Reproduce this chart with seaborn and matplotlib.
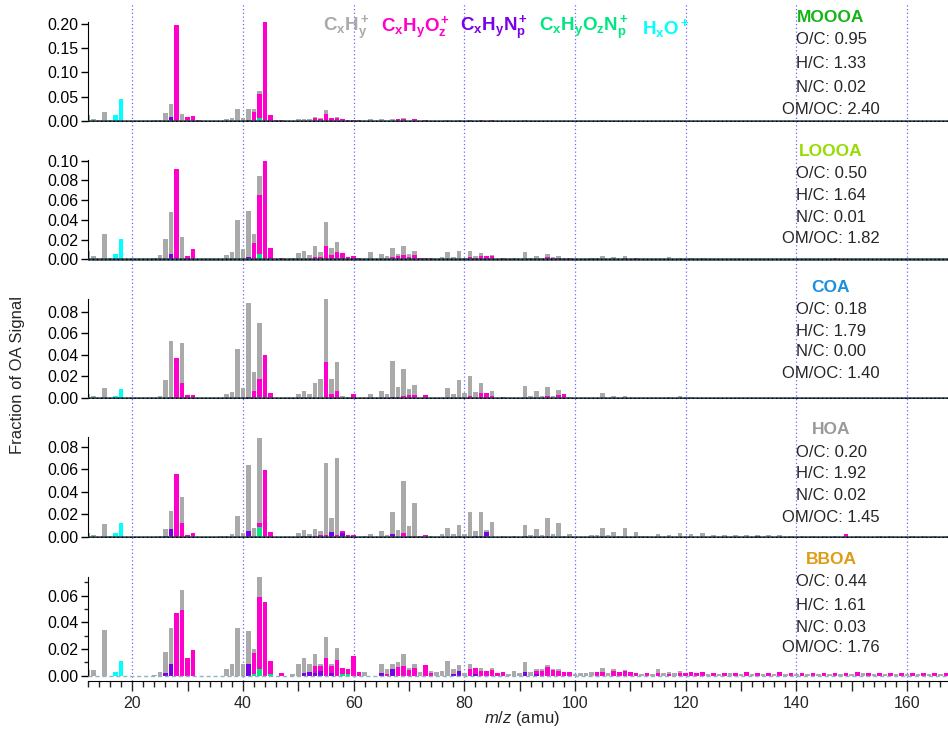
import seaborn as sns
import pandas as pd
import numpy as np
import matplotlib.pyplot as plt
from matplotlib.ticker import MultipleLocator, FuncFormatter

# ion families (stack order: first one ends up on top)
families = ["CxHy", "CxHyOz", "CxHyNp", "CxHyOzNp", "HxO"]
family_colors = ["#aaaaaa", "#ff00cc", "#7a00e6", "#00e680", "#00ffff"]
family_labels = [r"$\mathbf{C_xH_y^+}$", r"$\mathbf{C_xH_yO_z^+}$", r"$\mathbf{C_xH_yN_p^+}$",
                 r"$\mathbf{C_xH_yO_zN_p^+}$", r"$\mathbf{H_xO^+}$"]

factor_names = ["MOOOA", "LOOOA", "COA", "HOA", "BBOA"]
factor_colors = ["#14b414", "#96dc00", "#1a8fe0", "#999999", "#e09a14"]
o_c = [0.95, 0.50, 0.18, 0.20, 0.44]
h_c = [1.33, 1.64, 1.79, 1.92, 1.61]
n_c = [0.02, 0.01, 0.00, 0.02, 0.03]
om_oc = [2.40, 1.82, 1.40, 1.45, 1.76]

# ---- MOOOA ----
mooa_hc = {12: .012, 13: .003, 14: .001, 15: .017, 24: .001, 25: .002, 26: .016, 27: .028, 29: .014,
           37: .003, 38: .005, 39: .025, 40: .006, 41: .023, 42: .006, 43: .006, 50: .003, 51: .004,
           52: .003, 53: .003, 54: .002, 55: .008, 56: .001, 57: .001, 63: .004, 65: .003, 67: .004,
           69: .002, 77: .002, 79: .002, 81: .001, 91: .001, 105: .001}
mooa_cho = {28: .199, 30: .008, 31: .010, 32: .001, 42: .019, 43: .051, 44: .204, 45: .012, 46: .001,
            47: .001, 53: .005, 54: .003, 55: .014, 56: .005, 57: .006, 58: .003, 59: .002, 60: .002,
            61: .001, 68: .003, 69: .003, 71: .003, 73: .001, 81: .001, 83: .002, 85: .001}
mooa_cn = {27: .007, 41: .002}
mooa_chon = {43: .005}
mooa_hxo = {16: .001, 17: .011, 18: .045}

# ---- LOOOA ----
looa_hc = {12: .0084, 13: .0034, 15: .026, 24: .001, 25: .004, 26: .021, 27: .043, 29: .023, 37: .004,
           38: .007, 39: .040, 40: .010, 41: .047, 42: .009, 43: .019, 49: .001, 50: .006, 51: .008,
           52: .004, 53: .011, 54: .0055, 55: .024, 56: .007, 57: .011, 63: .007, 65: .0055, 66: .003,
           67: .009, 68: .0025, 69: .0095, 70: .003, 71: .004, 76: .002, 77: .007, 78: .0025, 79: .008,
           80: .001, 81: .0065, 82: .002, 83: .003, 84: .0005, 85: .0015, 89: .0015, 91: .0075,
           92: .001, 93: .0035, 94: .001, 95: .0035, 96: .001, 97: .002, 98: .001, 103: .001,
           104: .001, 105: .003, 107: .002, 109: .002, 117: .002, 119: .0015, 121: .001, 123: .001}
looa_cho = {28: .092, 30: .003, 31: .010, 42: .017, 43: .060, 44: .100, 45: .011, 47: .001, 53: .002,
            54: .002, 55: .014, 56: .004, 57: .007, 58: .005, 59: .002, 60: .003, 61: .001, 67: .002,
            68: .003, 69: .004, 70: .002, 71: .004, 72: .0015, 73: .0015, 74: .001, 81: .002,
            82: .0015, 83: .003, 84: .003, 85: .003, 87: .0015, 95: .002, 96: .001, 97: .0015,
            99: .0015, 109: .001, 111: .001, 147: .001}
looa_cn = {27: .005, 41: .002, 58: .001}
looa_chon = {43: .005}
looa_hxo = {16: .001, 17: .005, 18: .021}

# ---- COA ----
coa_hc = {12: .0034, 13: .0012, 15: .0087, 25: .002, 26: .016, 27: .052, 29: .037, 37: .003, 38: .005,
          39: .045, 40: .009, 41: .087, 42: .018, 43: .0515, 50: .0034, 51: .006, 52: .003, 53: .0137,
          54: .017, 55: .059, 56: .014, 57: .027, 58: .0012, 59: .0006, 63: .0037, 65: .006,
          66: .0034, 67: .033, 68: .0086, 69: .0255, 70: .0053, 71: .009, 77: .0087, 78: .0034,
          79: .0167, 80: .0043, 81: .0185, 82: .005, 83: .0097, 84: .0008, 85: .0045, 91: .011,
          92: .0012, 93: .006, 94: .0012, 95: .0085, 96: .0015, 97: .0045, 99: .0006, 105: .004,
          107: .002, 109: .002, 117: .001, 119: .0015, 121: .001}
coa_cho = {28: .037, 29: .0137, 30: .0025, 31: .0025, 42: .006, 43: .017, 44: .040, 45: .004,
           55: .033, 56: .003, 57: .006, 60: .0034, 68: .001, 69: .0015, 70: .0025, 71: .0025,
           73: .0025, 81: .002, 83: .0043, 84: .004, 85: .0015, 87: .0005, 95: .0015, 97: .0025,
           98: .0037}
coa_cn = {27: .001, 41: .001, 67: .001}
coa_chon = {43: .0005}
coa_hxo = {17: .0015, 18: .008}

# ---- HOA ----
hoa_hc = {12: .0033, 13: .0015, 15: .011, 25: .0006, 26: .006, 27: .0157, 29: .023, 36: .0006,
          37: .001, 38: .0024, 39: .018, 40: .0033, 41: .059, 42: .0064, 43: .0762, 50: .0035,
          51: .005, 52: .0018, 53: .006, 54: .004, 55: .0645, 56: .0132, 57: .0682, 62: .001,
          63: .0024, 65: .0047, 66: .0015, 67: .020, 68: .006, 69: .0462, 70: .0085, 71: .0295,
          74: .0006, 76: .002, 77: .0074, 78: .0027, 79: .010, 80: .002, 81: .022, 82: .0044,
          83: .0214, 84: .0019, 85: .0135, 87: .0006, 89: .0006, 91: .0098, 92: .0018, 93: .007,
          94: .0015, 95: .016, 96: .0024, 97: .0125, 98: .0006, 99: .0027, 103: .0012, 104: .0018,
          105: .007, 106: .0012, 107: .0041, 108: .0009, 109: .0077, 111: .0038, 112: .0006,
          113: .0006, 115: .0024, 117: .0018, 119: .0036, 121: .0024, 123: .0033, 125: .0012,
          127: .0012, 129: .0012, 131: .0012, 133: .0012, 135: .0012, 137: .0012, 139: .001,
          141: .001, 143: .001, 145: .001, 147: .001, 151: .001, 155: .001, 157: .001, 161: .001,
          163: .0008, 165: .0008, 167: .0008}
hoa_cho = {28: .0554, 29: .012, 30: .0012, 31: .0033, 43: .0032, 44: .0595, 45: .0038, 54: .0005,
           55: .0012, 57: .0018, 58: .0012, 59: .0012, 60: .0018, 69: .0033, 70: .0007, 71: .0007,
           72: .0006, 73: .0018, 95: .0006, 105: .0006, 149: .0024}
hoa_cn = {26: .001, 27: .0068, 41: .0047, 51: .0006, 52: .0006, 53: .0008, 54: .0008, 56: .0038,
          58: .0035, 67: .002, 79: .0006, 82: .0006, 83: .0006, 84: .0041, 91: .0006, 133: .0006}
hoa_chon = {42: .001, 43: .0086}
hoa_hxo = {16: .0006, 17: .0033, 18: .0124}

# ---- BBOA ----
bboa_hc = {12: .0043, 13: .0043, 15: .034, 24: .0005, 25: .0028, 26: .016, 27: .0275, 29: .0145,
           37: .005, 38: .0088, 39: .0355, 40: .009, 41: .025, 42: .003, 43: .016, 49: .0015,
           50: .009, 51: .0117, 52: .0065, 53: .009, 54: .002, 55: .0153, 56: .0015, 57: .0088,
           62: .003, 65: .0072, 66: .0038, 67: .0035, 68: .0032, 69: .009, 70: .0015, 71: .003,
           72: .003, 74: .0017, 75: .0025, 76: .0038, 77: .0108, 78: .004, 79: .0045, 80: .0023,
           81: .004, 82: .0005, 83: .002, 85: .0015, 88: .001, 89: .0035, 90: .002, 91: .007,
           92: .0025, 93: .0013, 94: .0015, 95: .0015, 96: .001, 97: .0015, 100: .001, 101: .0018,
           102: .0022, 103: .003, 105: .003, 106: .0018, 107: .0015, 109: .001, 112: .001,
           114: .001, 115: .003, 116: .0018, 117: .0018, 118: .002, 119: .0015, 124: .0012,
           126: .0012, 128: .0022, 130: .0012, 132: .001, 134: .001, 136: .001, 138: .001,
           140: .001, 142: .001, 144: .001, 146: .001, 148: .001, 150: .001, 152: .0018,
           154: .0012, 156: .001, 158: .001, 160: .001, 162: .001, 164: .0012, 166: .001}
bboa_cho = {28: .047, 29: .0495, 30: .013, 31: .019, 42: .016, 43: .054, 44: .0555, 45: .010,
            47: .0018, 53: .005, 54: .0035, 55: .0135, 56: .0055, 57: .012, 58: .0045, 59: .004,
            60: .015, 61: .003, 66: .0012, 68: .0068, 69: .0073, 70: .0045, 71: .006, 73: .0078,
            74: .0018, 81: .005, 82: .0045, 83: .0035, 84: .0035, 85: .004, 86: .0018, 87: .0025,
            93: .0025, 94: .0035, 95: .0065, 96: .004, 97: .0035, 98: .0025, 99: .0025,
            104: .0025, 105: .003, 107: .0035, 108: .0028, 109: .0035, 110: .0028, 111: .0022,
            113: .0018, 115: .002, 117: .001, 119: .002, 120: .0018, 121: .0025, 122: .002,
            123: .0028, 125: .002, 127: .0022, 129: .002, 131: .0025, 133: .002, 135: .002,
            137: .0028, 139: .002, 141: .0018, 143: .0018, 145: .0022, 147: .0022, 149: .0022,
            151: .0025, 153: .0022, 155: .002, 157: .002, 159: .0018, 161: .002, 163: .002,
            165: .0022, 167: .002}
bboa_cn = {26: .0018, 27: .0085, 41: .0085, 51: .0018, 52: .0025, 53: .002, 54: .0035, 56: .002,
           65: .0018, 67: .005, 78: .001, 79: .0035, 82: .001, 91: .003, 93: .001}
bboa_chon = {42: .001, 43: .005, 45: .001, 58: .001, 59: .001}
bboa_hxo = {17: .0028, 18: .011}

spectra = [
    [mooa_hc, mooa_cho, mooa_cn, mooa_chon, mooa_hxo],
    [looa_hc, looa_cho, looa_cn, looa_chon, looa_hxo],
    [coa_hc, coa_cho, coa_cn, coa_chon, coa_hxo],
    [hoa_hc, hoa_cho, hoa_cn, hoa_chon, hoa_hxo],
    [bboa_hc, bboa_cho, bboa_cn, bboa_chon, bboa_hxo],
]

rows = []
for name, fams in zip(factor_names, spectra):
    for fam, d in zip(families, fams):
        rows.append((name, fam, 12, 0.0))
        for mz, v in d.items():
            rows.append((name, fam, mz, v))
df = pd.DataFrame(rows, columns=["factor", "family", "mz", "frac"])

sns.set_style("ticks")
plt.rcParams["font.family"] = ["Liberation Sans", "DejaVu Sans"]
plt.rcParams["mathtext.fontset"] = "custom"
plt.rcParams["mathtext.rm"] = "Liberation Sans"
plt.rcParams["mathtext.it"] = "Liberation Sans:italic"
plt.rcParams["mathtext.bf"] = "Liberation Sans:bold"

W, H = 948, 731
fig = plt.figure(figsize=(W / 100, H / 100), dpi=100)

# panel layout in pixels: (top, bottom) and y-limits
panel_px = [(21.9, 122.1), (159.7, 260.8), (299.3, 399.3), (437.2, 538.4), (576.7, 681.0)]
ylims = [(-0.003, 0.205), (-0.0015, 0.101), (-0.0015, 0.0915), (-0.0015, 0.0884), (-0.004, 0.0743)]
yticks = [0.05, 0.02, 0.02, 0.02, 0.02]
x_left, x_right = 88, 948
xlim = (12.0, 167.4)

# background axes for the dotted vertical grid
bg = fig.add_axes([x_left / W, 1 - 681 / H, (x_right - x_left) / W, (681 - 4) / H], zorder=-5)
bg.set_xlim(xlim)
bg.axis("off")
for g in range(20, 161, 20):
    bg.axvline(g, color="#6a6aff", lw=0.9, ls=(0, (1, 2)))

# text y positions (px): name, O/C, H/C, N/C, OM/OC
text_px = [[17, 40, 63, 87, 110], [152, 174, 196, 218, 239], [288, 309, 331, 352, 373],
           [430, 452, 474, 496, 518], [560, 582, 605, 627, 648]]

for i, name in enumerate(factor_names):
    top, bot = panel_px[i]
    ax = fig.add_axes([x_left / W, 1 - bot / H, (x_right - x_left) / W, (bot - top) / H])
    ax.patch.set_visible(False)
    sub = df[df["factor"] == name]
    sns.histplot(data=sub, x="mz", weights="frac", hue="family", hue_order=families,
                 palette=family_colors, multiple="stack", discrete=True, shrink=0.82,
                 linewidth=0, alpha=1, legend=False, ax=ax)
    ax.set_xlim(xlim)
    ax.set_ylim(ylims[i])
    ax.set_xlabel("")
    ax.set_ylabel("")
    ax.yaxis.set_major_locator(MultipleLocator(yticks[i]))
    ax.yaxis.set_major_formatter(FuncFormatter(lambda v, p: f"{v:.2f}"))
    ax.tick_params(axis="y", labelsize=11.5, length=5, width=1, colors="black", pad=2)
    for s in ["top", "right"]:
        ax.spines[s].set_visible(False)
    ax.spines["left"].set_color("black")
    ax.spines["left"].set_bounds(0, ylims[i][1])
    if i < 4:
        ax.spines["bottom"].set_visible(False)
        ax.set_xticks([])
        ax.axhline(0, color="#2e4650", lw=1.8, zorder=3)
        ax.axhline(0, color="black", lw=1.0, ls=(0, (1, 2)), zorder=4)
    else:
        ax.axhline(0, color="#8fb3cc", lw=1.0, ls=(0, (3, 2)), zorder=3)
        ax.spines["bottom"].set_color("black")
        ax.yaxis.set_minor_locator(MultipleLocator(0.01))
        ax.tick_params(axis="y", which="minor", length=3, width=1)
        ax.xaxis.set_major_locator(MultipleLocator(10))
        ax.xaxis.set_minor_locator(MultipleLocator(2))
        ax.xaxis.set_major_formatter(FuncFormatter(lambda v, p: f"{v:.0f}" if v % 20 == 0 else ""))
        ax.tick_params(axis="x", which="major", length=7, width=1, labelsize=11.5, pad=4)
        ax.tick_params(axis="x", which="minor", length=4, width=1)

    ys = text_px[i]
    xc = 831 / W
    fig.text(xc, 1 - ys[0] / H, name, color=factor_colors[i], fontsize=12.5, fontweight="bold",
             ha="center", va="center")
    lines = [f"O/C: {o_c[i]:.2f}", f"H/C: {h_c[i]:.2f}", f"N/C: {n_c[i]:.2f}", f"OM/OC: {om_oc[i]:.2f}"]
    for t, y in zip(lines, ys[1:]):
        fig.text(xc, 1 - y / H, t, fontsize=12, ha="center", va="center")

# family legend along the top
legend_x = [323, 381, 460, 539, 642]
for lab, col, xx in zip(family_labels, family_colors, legend_x):
    fig.text(xx / W, 1 - 28 / H, lab, color=col, fontsize=13.5, ha="left", va="center")

fig.text(18 / W, 1 - 375 / H, "Fraction of OA Signal", rotation=90, fontsize=12, ha="center", va="center")
fig.text(522 / W, 1 - 719 / H, r"$m/z$ (amu)", fontsize=12, ha="center", va="center")

fig.savefig("out.png", dpi=100)
